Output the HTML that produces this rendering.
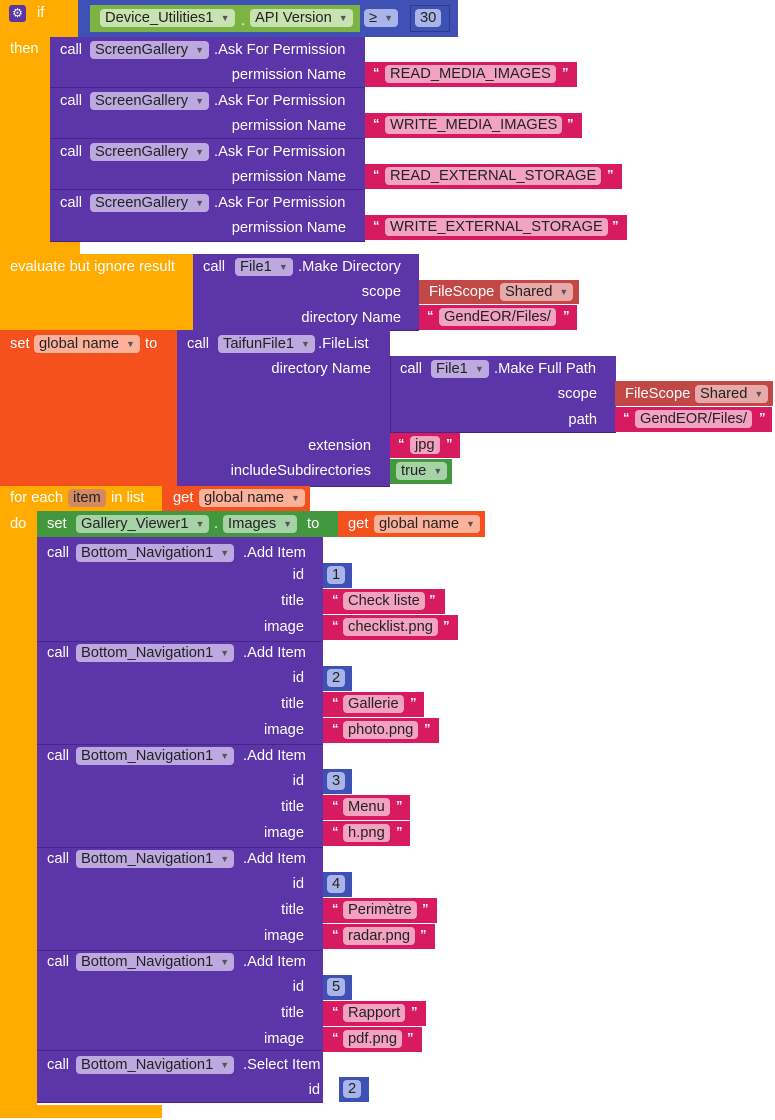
<!DOCTYPE html>
<html><head><meta charset="utf-8"><style>
body{margin:0;width:775px;height:1120px;background:#fff;position:relative;overflow:hidden;font-family:"Liberation Sans",Arial,sans-serif}
.b{position:absolute}
.t{position:absolute;color:#fff;font-size:14.7px;line-height:16px;white-space:nowrap}
.p{position:absolute;height:18px;line-height:18px;border-radius:4px;padding:0 5px;color:#222;font-size:14.7px;white-space:nowrap}
.a{font-size:9px;margin-left:7px;vertical-align:1px;color:#555}
.o{background:#ffab00}.u{background:#5c35a9;border-bottom:1px solid #452588}
.pk{background:#d81b60}.rd{background:#f4511e}.fs{background:#c24846}
.gn{background:#7cb342}.dg{background:#43973f}.bl{background:#3f51b5}
.pu{background:#bda9e0}.pp{background:#f3a3c0}.pr{background:#fcb29a}
.pf{background:#e8a9a9}.pg{background:#c7e3b1}.pd{background:#a5d3a5}.pb{background:#a9b5e8}
.q{position:absolute;color:#fff;font-size:13px;line-height:13px;font-weight:bold}
</style></head><body>
<!-- IF block -->
<div class="b o" style="left:0;top:0;width:80px;height:37px"></div>
<div class="b o" style="left:0;top:37px;width:50px;height:217px"></div>
<div class="b o" style="left:0;top:242px;width:80px;height:12px"></div>
<div class="b" style="left:9px;top:5px;width:17px;height:17px;background:#5c35a9;border-radius:3px;color:#fff;font-size:12px;line-height:17px;text-align:center">⚙</div>
<div class="t" style="left:37px;top:5px">if</div>
<div class="t" style="left:10px;top:41px">then</div>
<div class="b bl" style="left:78px;top:0;width:380px;height:37px"></div>
<div class="b gn" style="left:90px;top:5px;width:270px;height:27px"></div>
<div class="p pg" style="left:100px;top:9px">Device_Utilities1<span class="a">▼</span></div>
<div class="t" style="left:241px;top:13px">.</div>
<div class="p pg" style="left:250px;top:9px">API Version<span class="a">▼</span></div>
<div class="p pb" style="left:364px;top:9px">≥<span class="a">▼</span></div>
<div class="b" style="left:410px;top:5px;width:40px;height:27px;border:1px solid #2c3a8a;box-sizing:border-box"></div>
<div class="p pb" style="left:415px;top:9px">30</div>
<!-- permissions -->
<div class="b u" style="left:50px;top:37px;width:315px;height:50px"></div>
<div class="b u" style="left:50px;top:88px;width:315px;height:50px"></div>
<div class="b u" style="left:50px;top:139px;width:315px;height:50px"></div>
<div class="b u" style="left:50px;top:190px;width:315px;height:51px"></div>
<div class="t" style="left:60px;top:42px">call</div><div class="p pu" style="left:90px;top:41px">ScreenGallery<span class="a">▼</span></div><div class="t" style="left:214px;top:42px">.Ask For Permission</div><div class="t" style="right:429px;top:67px">permission Name</div>
<div class="t" style="left:60px;top:93px">call</div><div class="p pu" style="left:90px;top:92px">ScreenGallery<span class="a">▼</span></div><div class="t" style="left:214px;top:93px">.Ask For Permission</div><div class="t" style="right:429px;top:118px">permission Name</div>
<div class="t" style="left:60px;top:144px">call</div><div class="p pu" style="left:90px;top:143px">ScreenGallery<span class="a">▼</span></div><div class="t" style="left:214px;top:144px">.Ask For Permission</div><div class="t" style="right:429px;top:169px">permission Name</div>
<div class="t" style="left:60px;top:195px">call</div><div class="p pu" style="left:90px;top:194px">ScreenGallery<span class="a">▼</span></div><div class="t" style="left:214px;top:195px">.Ask For Permission</div><div class="t" style="right:429px;top:220px">permission Name</div>
<div class="b pk" style="left:365px;top:62px;width:212px;height:25px"></div><div class="q" style="left:373px;top:66px">“</div><div class="p pp" style="left:385px;top:65px">READ_MEDIA_IMAGES</div><div class="q" style="left:562px;top:66px">”</div>
<div class="b pk" style="left:365px;top:113px;width:217px;height:25px"></div><div class="q" style="left:373px;top:117px">“</div><div class="p pp" style="left:385px;top:116px">WRITE_MEDIA_IMAGES</div><div class="q" style="left:567px;top:117px">”</div>
<div class="b pk" style="left:365px;top:164px;width:257px;height:25px"></div><div class="q" style="left:373px;top:168px">“</div><div class="p pp" style="left:385px;top:167px">READ_EXTERNAL_STORAGE</div><div class="q" style="left:607px;top:168px">”</div>
<div class="b pk" style="left:365px;top:215px;width:262px;height:25px"></div><div class="q" style="left:373px;top:219px">“</div><div class="p pp" style="left:385px;top:218px">WRITE_EXTERNAL_STORAGE</div><div class="q" style="left:612px;top:219px">”</div>
<!-- evaluate -->
<div class="b o" style="left:0;top:254px;width:193px;height:76px"></div>
<div class="t" style="left:10px;top:259px">evaluate but ignore result</div>
<div class="b u" style="left:193px;top:254px;width:226px;height:76px"></div>
<div class="t" style="left:203px;top:259px">call</div><div class="p pu" style="left:235px;top:258px">File1<span class="a">▼</span></div><div class="t" style="left:298px;top:259px">.Make Directory</div>
<div class="t" style="right:374px;top:284px">scope</div><div class="t" style="right:374px;top:310px">directory Name</div>
<div class="b fs" style="left:419px;top:280px;width:160px;height:24px"></div><div class="t" style="left:429px;top:284px">FileScope</div><div class="p pf" style="left:500px;top:283px">Shared<span class="a">▼</span></div>
<div class="b pk" style="left:419px;top:305px;width:158px;height:25px"></div><div class="q" style="left:427px;top:309px">“</div><div class="p pp" style="left:439px;top:308px">GendEOR/Files/</div><div class="q" style="left:563px;top:309px">”</div>
<!-- set global -->
<div class="b rd" style="left:0;top:330px;width:177px;height:156px"></div>
<div class="t" style="left:10px;top:336px">set</div><div class="p pr" style="left:34px;top:335px">global name<span class="a">▼</span></div><div class="t" style="left:145px;top:336px">to</div>
<div class="b u" style="left:177px;top:330px;width:213px;height:156px"></div>
<div class="t" style="left:187px;top:336px">call</div><div class="p pu" style="left:218px;top:335px">TaifunFile1<span class="a">▼</span></div><div class="t" style="left:318px;top:336px">.FileList</div>
<div class="t" style="right:404px;top:361px">directory Name</div><div class="t" style="right:404px;top:438px">extension</div><div class="t" style="right:404px;top:463px">includeSubdirectories</div>
<div class="b u" style="left:390px;top:356px;width:225px;height:76px;border-left:1px solid #452588"></div>
<div class="t" style="left:400px;top:361px">call</div><div class="p pu" style="left:431px;top:360px">File1<span class="a">▼</span></div><div class="t" style="left:494px;top:361px">.Make Full Path</div>
<div class="t" style="right:178px;top:386px">scope</div><div class="t" style="right:178px;top:412px">path</div>
<div class="b fs" style="left:615px;top:381px;width:158px;height:25px"></div><div class="t" style="left:625px;top:386px">FileScope</div><div class="p pf" style="left:695px;top:385px">Shared<span class="a">▼</span></div>
<div class="b pk" style="left:615px;top:407px;width:157px;height:25px"></div><div class="q" style="left:623px;top:411px">“</div><div class="p pp" style="left:635px;top:410px">GendEOR/Files/</div><div class="q" style="left:759px;top:411px">”</div>
<div class="b pk" style="left:390px;top:433px;width:70px;height:25px"></div><div class="q" style="left:398px;top:437px">“</div><div class="p pp" style="left:410px;top:436px">jpg</div><div class="q" style="left:446px;top:437px">”</div>
<div class="b dg" style="left:390px;top:459px;width:62px;height:25px"></div><div class="p pd" style="left:396px;top:462px">true<span class="a">▼</span></div>
<!-- for each -->
<div class="b o" style="left:0;top:486px;width:162px;height:25px"></div>
<div class="b o" style="left:0;top:511px;width:37px;height:607px"></div>
<div class="b o" style="left:0;top:1105px;width:162px;height:13px"></div>
<div class="t" style="left:10px;top:490px">for each</div><div class="p" style="left:68px;top:489px;background:#d38a62">item</div><div class="t" style="left:111px;top:490px">in list</div>
<div class="b rd" style="left:162px;top:486px;width:148px;height:25px"></div><div class="t" style="left:173px;top:490px">get</div><div class="p pr" style="left:199px;top:489px">global name<span class="a">▼</span></div>
<div class="t" style="left:10px;top:516px">do</div>
<div class="b dg" style="left:37px;top:511px;width:301px;height:26px"></div>
<div class="t" style="left:47px;top:516px">set</div><div class="p pd" style="left:76px;top:515px">Gallery_Viewer1<span class="a">▼</span></div><div class="t" style="left:214px;top:516px">.</div><div class="p pd" style="left:223px;top:515px">Images<span class="a">▼</span></div><div class="t" style="left:307px;top:516px">to</div>
<div class="b rd" style="left:338px;top:511px;width:147px;height:26px"></div><div class="t" style="left:348px;top:516px">get</div><div class="p pr" style="left:374px;top:515px">global name<span class="a">▼</span></div>
<!-- Add items -->
<div class="b u" style="left:37px;top:537px;width:286px;height:104px"></div>
<div class="b u" style="left:37px;top:642px;width:286px;height:102px"></div>
<div class="b u" style="left:37px;top:745px;width:286px;height:102px"></div>
<div class="b u" style="left:37px;top:848px;width:286px;height:102px"></div>
<div class="b u" style="left:37px;top:951px;width:286px;height:99px"></div>
<div class="b u" style="left:37px;top:1051px;width:286px;height:51px"></div>

<div class="t" style="left:47px;top:545px">call</div><div class="p pu" style="left:76px;top:544px">Bottom_Navigation1<span class="a">▼</span></div><div class="t" style="left:243px;top:545px">.Add Item</div>
<div class="t" style="right:471px;top:567px">id</div><div class="t" style="right:471px;top:593px">title</div><div class="t" style="right:471px;top:619px">image</div>
<div class="b bl" style="left:323px;top:563px;width:29px;height:25px"></div><div class="p pb" style="left:327px;top:566px">1</div>
<div class="b pk" style="left:323px;top:589px;width:122px;height:25px"></div><div class="q" style="left:332px;top:593px">“</div><div class="p pp" style="left:343px;top:592px">Check liste</div><div class="q" style="left:429px;top:593px">”</div>
<div class="b pk" style="left:323px;top:615px;width:135px;height:25px"></div><div class="q" style="left:332px;top:619px">“</div><div class="p pp" style="left:343px;top:618px">checklist.png</div><div class="q" style="left:443px;top:619px">”</div>

<div class="t" style="left:47px;top:645px">call</div><div class="p pu" style="left:76px;top:644px">Bottom_Navigation1<span class="a">▼</span></div><div class="t" style="left:243px;top:645px">.Add Item</div>
<div class="t" style="right:471px;top:670px">id</div><div class="t" style="right:471px;top:696px">title</div><div class="t" style="right:471px;top:722px">image</div>
<div class="b bl" style="left:323px;top:666px;width:29px;height:25px"></div><div class="p pb" style="left:327px;top:669px">2</div>
<div class="b pk" style="left:323px;top:692px;width:101px;height:25px"></div><div class="q" style="left:332px;top:696px">“</div><div class="p pp" style="left:343px;top:695px">Gallerie</div><div class="q" style="left:410px;top:696px">”</div>
<div class="b pk" style="left:323px;top:718px;width:116px;height:25px"></div><div class="q" style="left:332px;top:722px">“</div><div class="p pp" style="left:343px;top:721px">photo.png</div><div class="q" style="left:424px;top:722px">”</div>

<div class="t" style="left:47px;top:748px">call</div><div class="p pu" style="left:76px;top:747px">Bottom_Navigation1<span class="a">▼</span></div><div class="t" style="left:243px;top:748px">.Add Item</div>
<div class="t" style="right:471px;top:773px">id</div><div class="t" style="right:471px;top:799px">title</div><div class="t" style="right:471px;top:825px">image</div>
<div class="b bl" style="left:323px;top:769px;width:29px;height:25px"></div><div class="p pb" style="left:327px;top:772px">3</div>
<div class="b pk" style="left:323px;top:795px;width:87px;height:25px"></div><div class="q" style="left:332px;top:799px">“</div><div class="p pp" style="left:343px;top:798px">Menu</div><div class="q" style="left:396px;top:799px">”</div>
<div class="b pk" style="left:323px;top:821px;width:87px;height:25px"></div><div class="q" style="left:332px;top:825px">“</div><div class="p pp" style="left:343px;top:824px">h.png</div><div class="q" style="left:396px;top:825px">”</div>

<div class="t" style="left:47px;top:851px">call</div><div class="p pu" style="left:76px;top:850px">Bottom_Navigation1<span class="a">▼</span></div><div class="t" style="left:243px;top:851px">.Add Item</div>
<div class="t" style="right:471px;top:876px">id</div><div class="t" style="right:471px;top:902px">title</div><div class="t" style="right:471px;top:928px">image</div>
<div class="b bl" style="left:323px;top:872px;width:29px;height:25px"></div><div class="p pb" style="left:327px;top:875px">4</div>
<div class="b pk" style="left:323px;top:898px;width:114px;height:25px"></div><div class="q" style="left:332px;top:902px">“</div><div class="p pp" style="left:343px;top:901px">Perimètre</div><div class="q" style="left:422px;top:902px">”</div>
<div class="b pk" style="left:323px;top:924px;width:112px;height:25px"></div><div class="q" style="left:332px;top:928px">“</div><div class="p pp" style="left:343px;top:927px">radar.png</div><div class="q" style="left:420px;top:928px">”</div>

<div class="t" style="left:47px;top:954px">call</div><div class="p pu" style="left:76px;top:953px">Bottom_Navigation1<span class="a">▼</span></div><div class="t" style="left:243px;top:954px">.Add Item</div>
<div class="t" style="right:471px;top:979px">id</div><div class="t" style="right:471px;top:1005px">title</div><div class="t" style="right:471px;top:1031px">image</div>
<div class="b bl" style="left:323px;top:975px;width:29px;height:25px"></div><div class="p pb" style="left:327px;top:978px">5</div>
<div class="b pk" style="left:323px;top:1001px;width:103px;height:25px"></div><div class="q" style="left:332px;top:1005px">“</div><div class="p pp" style="left:343px;top:1004px">Rapport</div><div class="q" style="left:411px;top:1005px">”</div>
<div class="b pk" style="left:323px;top:1027px;width:99px;height:25px"></div><div class="q" style="left:332px;top:1031px">“</div><div class="p pp" style="left:343px;top:1030px">pdf.png</div><div class="q" style="left:407px;top:1031px">”</div>

<div class="t" style="left:47px;top:1057px">call</div><div class="p pu" style="left:76px;top:1056px">Bottom_Navigation1<span class="a">▼</span></div><div class="t" style="left:243px;top:1057px">.Select Item</div>
<div class="t" style="right:455px;top:1082px">id</div>
<div class="b bl" style="left:339px;top:1077px;width:30px;height:25px"></div><div class="p pb" style="left:343px;top:1080px">2</div>
</body></html>
